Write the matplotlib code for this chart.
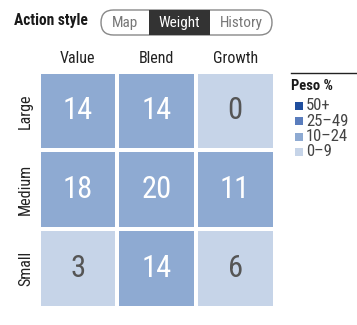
import numpy as np
import matplotlib
matplotlib.use("Agg")
import matplotlib.pyplot as plt
from matplotlib.colors import ListedColormap, BoundaryNorm
from matplotlib.patches import FancyBboxPatch, Rectangle

plt.rcParams['font.family'] = ['Roboto Condensed', 'DejaVu Sans']

cols = ["Value", "Blend", "Growth"]
rows = ["Large", "Medium", "Small"]
weights = np.array([[14, 14, 0],
                    [18, 20, 11],
                    [3, 14, 6]])
tabs = ["Map", "Weight", "History"]
legend_labels = ["50+", "25\u201349", "10\u201324", "0\u20139"]
legend_colors = ["#1f4e9e", "#5a7dbd", "#8eaad2", "#c6d4e8"]
bins = [0, 10, 25, 50, 101]

fig = plt.figure(figsize=(3.57, 3.25), dpi=100)

# heatmap
ax = fig.add_axes([38.5 / 357, 17.5 / 325, 236 / 357, 236 / 325])
cmap = ListedColormap(legend_colors[::-1])
norm = BoundaryNorm(bins, cmap.N)
ax.pcolormesh(weights, cmap=cmap, norm=norm, edgecolors="white", linewidth=2.6)
ax.set_xlim(0, 3)
ax.set_ylim(3, 0)
for i in range(3):
    for j in range(3):
        v = weights[i, j]
        c = "white" if v >= 10 else "#555555"
        ax.text(j + 0.5, i + 0.5, str(v), ha="center", va="center",
                fontsize=22, color=c)
ax.set_xticks(np.arange(3) + 0.5)
ax.set_xticklabels(cols, fontsize=11.5, color="#222222")
ax.set_yticks(np.arange(3) + 0.5)
ax.set_yticklabels(rows, fontsize=11.5, rotation=90, va="center", color="#222222")
ax.xaxis.tick_top()
ax.tick_params(length=0, pad=4)
for s in ax.spines.values():
    s.set_visible(False)

# overlay in pixel coordinates
ov = fig.add_axes([0, 0, 1, 1])
ov.set_xlim(0, 357)
ov.set_ylim(325, 0)
ov.axis("off")

ov.text(14, 21, "Action style", fontsize=11.2, fontweight="bold",
        ha="left", va="center", color="#1a1a1a")
ov.add_patch(FancyBboxPatch((101, 10), 171, 25,
                            boxstyle="round,pad=0,rounding_size=12.5",
                            facecolor="white", edgecolor="#888888", lw=1))
ov.add_patch(Rectangle((149, 10), 61, 25, facecolor="#333333", edgecolor="none"))
tab_x = [125, 179.5, 241]
for t, x in zip(tabs, tab_x):
    ov.text(x, 23, t, fontsize=11, ha="center", va="center",
            color="white" if t == "Weight" else "#777777")

# legend
ov.plot([291, 357], [72.5, 72.5], color="#222222", lw=1)
ov.text(291, 86, "Peso %", fontsize=10.5, fontweight="bold", ha="left",
        va="center", color="#1a1a1a")
for k, (lab, col) in enumerate(zip(legend_labels, legend_colors)):
    y = 106 + k * 15.3
    ov.add_patch(Rectangle((295, y - 4), 8, 8, facecolor=col, edgecolor="none"))
    ov.text(306, y, lab, fontsize=12, ha="left", va="center", color="#444444")

fig.savefig("out.png", dpi=100)
